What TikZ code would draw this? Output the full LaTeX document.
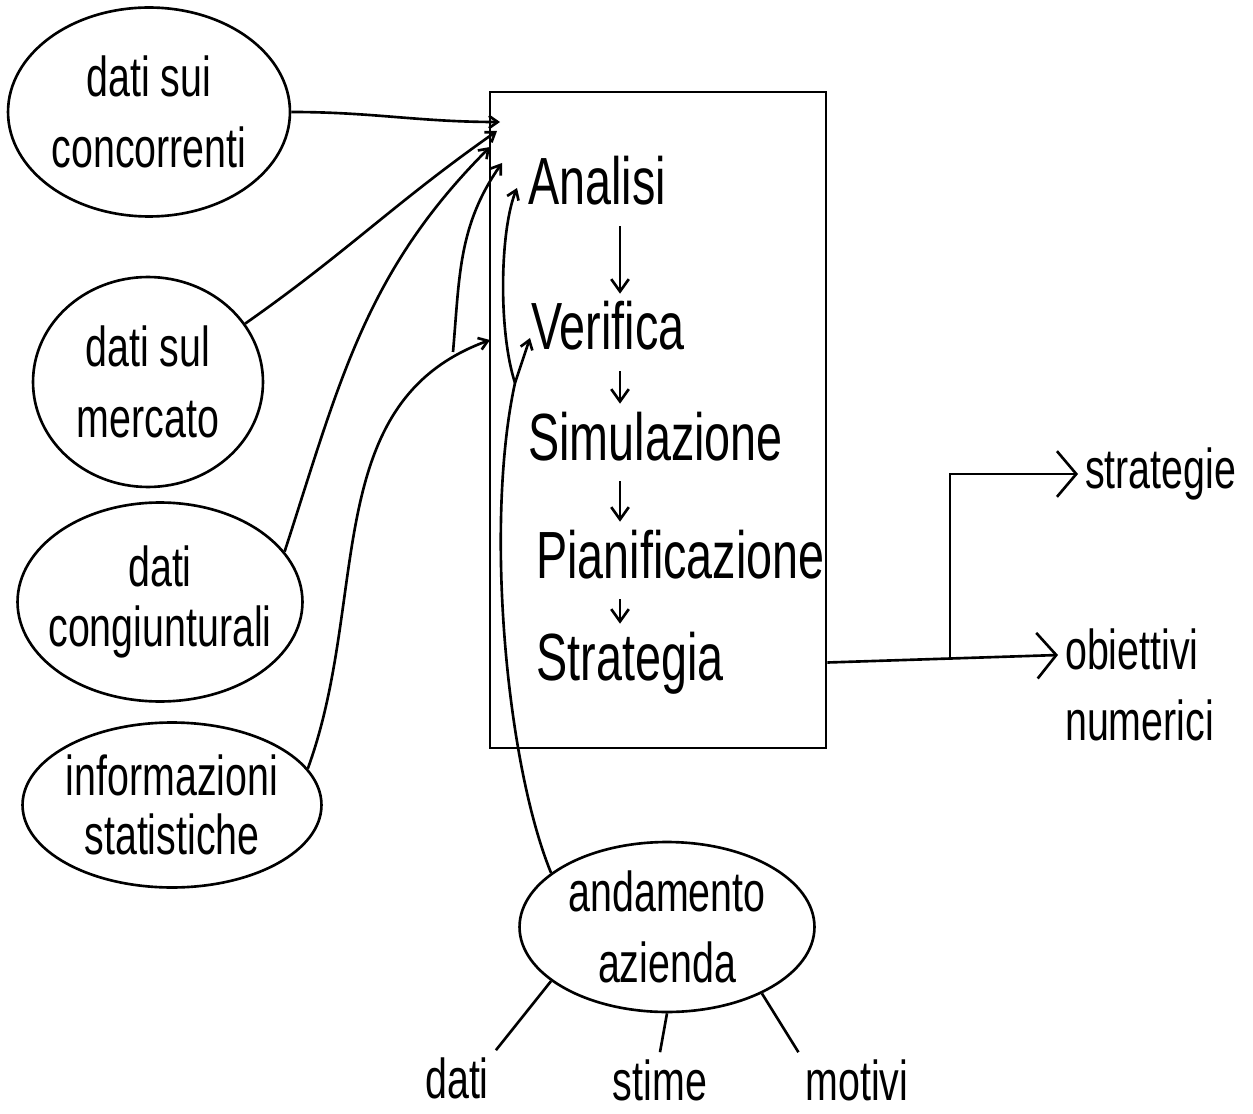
\documentclass[tikz,border=0pt]{standalone}
\usepackage{fontspec}
\setmainfont{Liberation Sans}[FakeStretch=0.7]
\usetikzlibrary{shapes.geometric,arrows.meta,positioning}

\begin{document}
\begin{tikzpicture}[x=0.02cm, y=-0.02cm, line width=1.5pt,
          bubble/.style={ellipse, draw, inner xsep=-0.8cm, inner ysep=-0.4cm, align=center, font=\fontsize{32}{40}\selectfont},
          word/.style={font=\fontsize{32}{40}\selectfont},
          stage/.style={anchor=base west, inner sep=0pt, text height=1.1cm, text depth=0.4cm, font=\fontsize{38}{44}\selectfont},
          feed/.style={-{Straight Barb[length=5pt,width=7pt]}},
          stepdown/.style={-{Straight Barb[length=7pt,width=10pt]}},
          result/.style={-{Straight Barb[length=11pt,width=26pt]}}]

          \useasboundingbox (0,0) rectangle (1253,1114);

          % sources
          \node[bubble, minimum width=5.64cm, minimum height=4.18cm] (conc) at (149,112) {dati sui\\concorrenti};
          \node[bubble, minimum width=4.6cm, minimum height=4.2cm] (merc) at (148,382) {dati sul\\mercato};
          \node[bubble, minimum width=5.7cm, minimum height=3.98cm, font=\fontsize{32}{34}\selectfont] (cong) at (160,602) {dati\\congiunturali};
          \node[bubble, minimum width=5.98cm, minimum height=3.3cm, font=\fontsize{32}{34}\selectfont] (info) at (172,805) {informazioni\\statistiche};
          \node[bubble, minimum width=5.9cm, minimum height=3.4cm] (trend) at (667,927) {andamento\\azienda};

          % process box
          \node[draw, inner sep=0pt, minimum width=6.72cm, minimum height=13.12cm] (proc) at (658,420) {};
          \node[stage] (an) at (527,205) {Analisi};
          \node[stage] (ver) at (530,350) {Verifica};
          \node[stage] (sim) at (527,460) {Simulazione};
          \node[stage] (pian) at (535,578) {Pianificazione};
          \node[stage] (strat) at (535,680) {Strategia};

          \coordinate (spine) at (620,0);
          \draw[stepdown] (an.south -| spine) -- (ver.north -| spine);
          \draw[stepdown] (ver.south -| spine) -- (sim.north -| spine);
          \draw[stepdown] (sim.south -| spine) -- (pian.north -| spine);
          \draw[stepdown] (pian.south -| spine) -- (strat.north -| spine);

          % outputs
          \node[word, anchor=west] (stg) at (1078,474) {strategie};
          \node[word, anchor=west, align=left] (obi) at (1058,685) {obiettivi\\numerici};
          \coordinate (fork) at (950,660);
          \draw[result] (strat -| proc.east) -- ([yshift=0.6cm]obi.west);
          \draw[result] (fork) |- (stg.west);

          % inputs into the box
          \coordinate (in1) at (500,122);
          \coordinate (in2) at (497,131);
          \coordinate (in3) at (490,147);
          \coordinate (in4) at (502,163);
          \coordinate (loose) at (453,352);
          \coordinate (in5) at (490,340);
          \coordinate (junc) at (515,383);
          \coordinate (inA) at (517,188);
          \coordinate (inV) at (530,338);

          \draw[feed] (conc.east) to[out=0, in=180] (in1);
          \draw[feed] (merc.31) to[out=35, in=215] (in2);
          \draw[feed] (cong.22) to[out=72, in=225] (in3);
          \draw[feed] (loose) to[out=85, in=235] (in4);
          \draw[feed] (info.15) to[out=70, in=200] (in5);

          \draw (trend.155) .. controls (505,760) and (485,520) .. (junc);
          \draw[feed] (junc) .. controls (498,330) and (500,230) .. (inA);
          \draw[feed] (junc) -- (inV);

          % details of the trend
          \node[word] (dt) at (457,1078) {dati};
          \node[word] (st) at (660,1080) {stime};
          \node[word] (mo) at (857,1080) {motivi};
          \draw (trend.205) -- (dt.north east);
          \draw (trend.south) -- (st.north);
          \draw (trend.-35) -- (mo.north west);
        \end{tikzpicture}
\end{document}
